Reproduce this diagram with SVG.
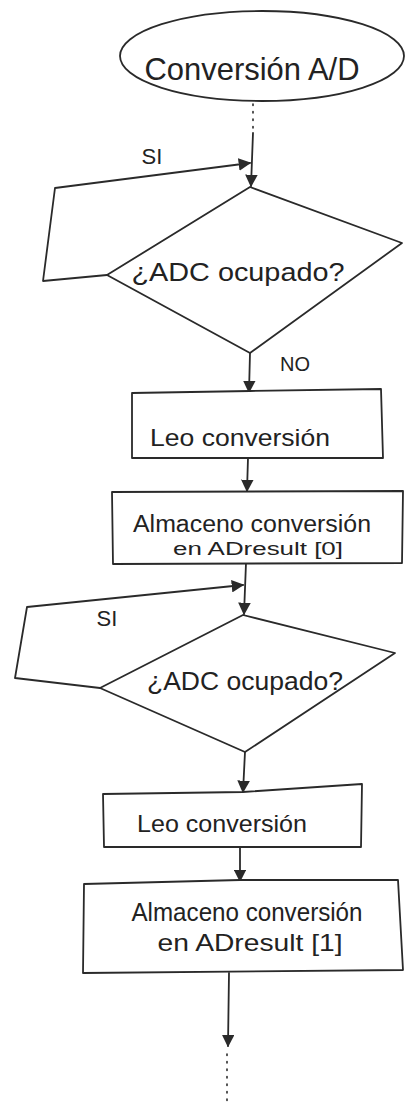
<svg xmlns="http://www.w3.org/2000/svg" width="406" height="1106" viewBox="0 0 406 1106">
<defs>
<marker id="ah" viewBox="0 0 10 10" refX="9" refY="5" markerWidth="7" markerHeight="7" orient="auto" markerUnits="strokeWidth">
<path d="M0,0 L10,5 L0,10 Z" fill="#2a2a2a"/>
</marker>
<style>
.s{fill:none;stroke:#2a2a2a;stroke-width:1.8;stroke-linejoin:round;stroke-linecap:round}
.n{fill:#fff;stroke:#2a2a2a;stroke-width:1.8;stroke-linejoin:round}
.d{fill:none;stroke:#2a2a2a;stroke-width:1.6;stroke-dasharray:1.5 6;stroke-linecap:round}
.t{font-family:"Liberation Sans","DejaVu Sans",sans-serif;fill:#222;text-anchor:middle}
</style>
</defs>
<rect width="406" height="1106" fill="#fff"/>
<g id="connectors">
<line class="d" x1="253" y1="104" x2="253" y2="128"/>
<path class="s" d="M253,133 L251,186" marker-end="url(#ah)"/>
<path class="s" d="M107,275 L43,281 L55,188 L250,163" marker-end="url(#ah)"/>
<path class="s" d="M250,353 L249,392" marker-end="url(#ah)"/>
<path class="s" d="M248,458 L247,491" marker-end="url(#ah)"/>
<path class="s" d="M246,563 L244,614" marker-end="url(#ah)"/>
<path class="s" d="M100,688 L15,678 L27,607 L243,585" marker-end="url(#ah)"/>
<path class="s" d="M245,752 L243,792" marker-end="url(#ah)"/>
<path class="s" d="M240,846 L240,881" marker-end="url(#ah)"/>
<path class="s" d="M229,973 L228,1046" marker-end="url(#ah)"/>
<line class="d" x1="227" y1="1054" x2="227" y2="1106"/>
<text class="t" x="152" y="164" font-size="22">SI</text>
<text class="t" x="295" y="371" font-size="20">NO</text>
<text class="t" x="107" y="626" font-size="22">SI</text>
</g>
<g id="start">
<ellipse class="n" cx="262" cy="56" rx="142" ry="45"/>
<text class="t" x="252" y="80" font-size="32" textLength="215" lengthAdjust="spacingAndGlyphs">Conversión A/D</text>
</g>
<g id="decision1">
<path class="n" d="M250,187 L402,243 L250,353 L107,275 Z"/>
<text class="t" x="238" y="281" font-size="26" textLength="213" lengthAdjust="spacingAndGlyphs">¿ADC ocupado?</text>
</g>
<g id="read1">
<path class="n" d="M132,393 L250,391 L381,389 L383,458 L132,458 Z"/>
<text class="t" x="240" y="446" font-size="24" textLength="180" lengthAdjust="spacingAndGlyphs">Leo conversión</text>
</g>
<g id="store1">
<path class="n" d="M112,492 L403,491 L402,563 L113,564 Z"/>
<text class="t" x="252" y="532" font-size="23" textLength="238" lengthAdjust="spacingAndGlyphs">Almaceno conversión</text>
<text class="t" x="258" y="555" font-size="18" textLength="170" lengthAdjust="spacingAndGlyphs">en ADresult [0]</text>
</g>
<g id="decision2">
<path class="n" d="M243,615 L395,653 L245,752 L100,688 Z"/>
<text class="t" x="245" y="690" font-size="26" textLength="196" lengthAdjust="spacingAndGlyphs">¿ADC ocupado?</text>
</g>
<g id="read2">
<path class="n" d="M103,794 L243,792 L362,784 L361,847 L104,847 Z"/>
<text class="t" x="222" y="832" font-size="24" textLength="170" lengthAdjust="spacingAndGlyphs">Leo conversión</text>
</g>
<g id="store2">
<path class="n" d="M84,884 L240,880 L398,880 L403,970 L83,973 Z"/>
<text class="t" x="247" y="921" font-size="26" textLength="231" lengthAdjust="spacingAndGlyphs">Almaceno conversión</text>
<text class="t" x="250" y="951" font-size="24" textLength="185" lengthAdjust="spacingAndGlyphs">en ADresult [1]</text>
</g>
</svg>
